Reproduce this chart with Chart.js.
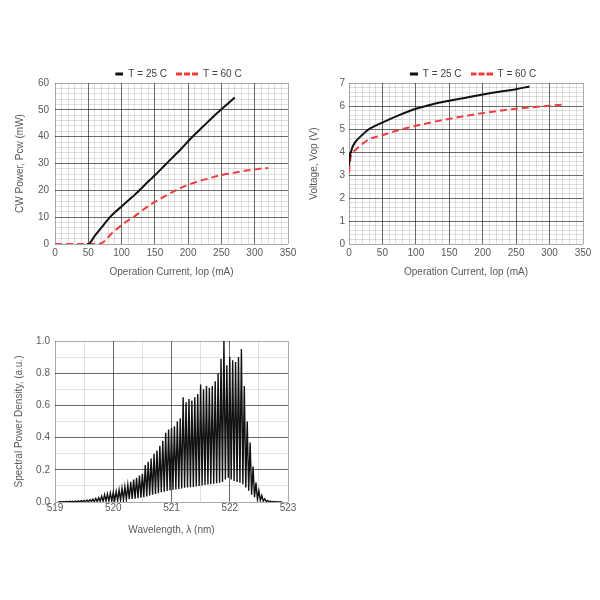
<!DOCTYPE html>
<html>
<head>
<meta charset="utf-8">
<script src="https://cdn.jsdelivr.net/npm/chart.js@4.4.1/dist/chart.umd.min.js"></script>
<style>
  body { margin: 0; background: #fff; }
  #wrap { position: relative; width: 600px; height: 600px; background: #fff; }
  canvas { position: absolute; }
</style>
</head>
<body>
<div id="wrap">
  <canvas id="powerChart" width="300" height="240" style="left:0;top:60px;width:300px;height:240px"></canvas>
  <canvas id="voltChart" width="300" height="240" style="left:300px;top:60px;width:300px;height:240px"></canvas>
  <canvas id="specChart" width="300" height="210" style="left:0;top:330px;width:300px;height:210px"></canvas>
</div>
<script>
// --- data ---
const seriesLabels = ['T = 25 C', 'T = 60 C'];

// CW power vs operation current
const powerCurrent25 = [48, 50, 60, 70, 80, 90, 100, 110, 120, 130, 140, 150, 160, 170, 180, 190, 200, 210, 220, 230, 240, 250, 260, 270];
const power25 = [0, 0, 3.1, 6.2, 9.3, 11.8, 14.0, 16.2, 18.4, 20.8, 23.3, 25.6, 28.1, 30.6, 33.1, 35.6, 38.3, 40.8, 43.2, 45.6, 48.0, 50.2, 52.4, 54.6];
const powerCurrent60 = [0, 60, 70, 75, 80, 90, 100, 110, 120, 130, 140, 150, 160, 170, 180, 190, 200, 210, 220, 230, 240, 250, 260, 270, 280, 290, 300, 310, 320];
const power60 = [0, 0, 0.3, 1.2, 2.6, 5, 7, 8.8, 10.4, 12.3, 14.1, 15.7, 17.1, 18.5, 19.8, 21, 22.1, 22.9, 23.7, 24.4, 25.1, 25.7, 26.2, 26.6, 27.1, 27.5, 27.8, 28.1, 28.3];

// voltage vs operation current
const voltCurrent25 = [0, 1, 3, 5, 10, 20, 30, 40, 50, 75, 100, 125, 150, 175, 200, 225, 250, 270];
const volt25 = [3.4, 3.8, 4.0, 4.2, 4.45, 4.75, 5.0, 5.15, 5.28, 5.6, 5.88, 6.08, 6.23, 6.36, 6.5, 6.62, 6.73, 6.85];
const voltCurrent60 = [0, 2, 5, 10, 20, 30, 50, 75, 100, 125, 150, 175, 200, 225, 250, 275, 300, 320];
const volt60 = [3.1, 3.7, 3.95, 4.1, 4.35, 4.55, 4.73, 4.96, 5.14, 5.3, 5.44, 5.57, 5.69, 5.79, 5.88, 5.95, 6.01, 6.06];

// spectrum: longitudinal mode positions, peak heights, trough heights (after each peak)
const modeWl = [
  519.05, 519.10, 519.15, 519.20, 519.25, 519.30, 519.35, 519.40, 519.45, 519.50,
  519.55, 519.60, 519.65, 519.70, 519.75, 519.80, 519.85, 519.90, 519.95, 520.00,
  520.05, 520.10, 520.15, 520.20, 520.25, 520.30, 520.35, 520.40, 520.45, 520.50,
  520.55, 520.60, 520.65, 520.70, 520.75, 520.80, 520.85, 520.90, 520.95, 521.00,
  521.05, 521.10, 521.15, 521.20, 521.25, 521.30, 521.35, 521.40, 521.45, 521.50,
  521.55, 521.60, 521.65, 521.70, 521.75, 521.80, 521.85, 521.90, 521.95, 522.00,
  522.05, 522.10, 522.15, 522.20, 522.25, 522.30, 522.35, 522.40, 522.45, 522.50,
  522.55, 522.60, 522.65, 522.70, 522.75, 522.80, 522.85, 522.90
];
const modePeak = [
  0.001, 0.002, 0.002, 0.003, 0.004, 0.005, 0.006, 0.007, 0.008, 0.010,
  0.012, 0.015, 0.018, 0.022, 0.027, 0.035, 0.045, 0.050, 0.055, 0.060,
  0.065, 0.075, 0.085, 0.095, 0.105, 0.125, 0.140, 0.150, 0.165, 0.175,
  0.230, 0.250, 0.270, 0.300, 0.320, 0.350, 0.380, 0.430, 0.450, 0.460,
  0.470, 0.500, 0.520, 0.650, 0.620, 0.640, 0.630, 0.650, 0.670, 0.730,
  0.700, 0.720, 0.710, 0.720, 0.750, 0.800, 0.890, 1.000, 0.850, 0.900,
  0.880, 0.870, 0.900, 0.950, 0.720, 0.500, 0.370, 0.220, 0.120, 0.070,
  0.040, 0.020, 0.010, 0.005, 0.003, 0.002, 0.001, 0.000
];
const modeTrough = [
  0, 0, 0, 0.001, 0.001, 0.001, 0.001, 0.001, 0.002, 0.002,
  0.002, 0.003, 0.003, 0.003, 0.004, 0.004, 0.005, 0.006, 0.007, 0.008,
  0.009, 0.011, 0.013, 0.015, 0.017, 0.019, 0.021, 0.023, 0.026, 0.030,
  0.035, 0.040, 0.045, 0.050, 0.055, 0.060, 0.064, 0.068, 0.072, 0.075,
  0.078, 0.081, 0.084, 0.088, 0.090, 0.092, 0.094, 0.097, 0.100, 0.103,
  0.106, 0.108, 0.110, 0.113, 0.116, 0.120, 0.125, 0.140, 0.150, 0.140,
  0.130, 0.125, 0.120, 0.110, 0.090, 0.070, 0.045, 0.030, 0.018, 0.010,
  0.006, 0.003, 0.002, 0.001, 0.001, 0, 0, 0
];

// --- styling ---
const tickColor = '#595959';
const majorGrid = 'rgba(0,0,0,0.58)';
const minorGrid = 'rgba(0,0,0,0.12)';
const edgeGrid = 'rgba(0,0,0,0.33)';
const red = '#f03c3c';
const baseFont = { family: "'Liberation Sans', Arial, sans-serif", size: 10 };

function pairs(xs, ys) {
  return xs.map((x, i) => ({ x: x, y: ys[i] }));
}

function isMultiple(v, step) {
  const r = v / step;
  return Math.abs(r - Math.round(r)) < 1e-6;
}

// one axis with minor step for the grid, labels only on the major step
function gridAxis(min, max, minor, major, fmt, opts) {
  return {
    type: 'linear',
    min: min,
    max: max,
    border: { display: false },
    grid: {
      drawTicks: false,
      color: c => {
        const v = c.tick.value;
        if (Math.abs(v - min) < 1e-6 || Math.abs(v - max) < 1e-6) return edgeGrid;
        return isMultiple(v, major) ? majorGrid : minorGrid;
      },
      lineWidth: 1
    },
    ticks: {
      stepSize: minor,
      autoSkip: false,
      maxRotation: 0,
      padding: opts.padding,
      color: tickColor,
      font: baseFont,
      callback: v => isMultiple(v, major) ? fmt(v) : ''
    },
    title: {
      display: true,
      text: opts.title,
      color: tickColor,
      font: baseFont,
      padding: opts.titlePadding
    },
    afterFit: opts.afterFit
  };
}

// little legend samples: short solid bar, longer dashed bar
function legendSample(color, dash, len) {
  const c = document.createElement('canvas');
  c.width = 22;
  c.height = 4;
  const g = c.getContext('2d');
  g.strokeStyle = color;
  g.lineWidth = 3;
  g.setLineDash(dash);
  g.beginPath();
  g.moveTo(22 - len, 2);
  g.lineTo(22, 2);
  g.stroke();
  return c;
}
const sample25 = legendSample('#111111', [], 8);
const sample60 = legendSample(red, [6, 2], 22);

const legendOpts = {
  position: 'top',
  fullSize: false,
  maxHeight: 23,
  labels: { usePointStyle: true, pointStyleWidth: 22, padding: 9, color: '#404040', font: baseFont }
};

function curveSets(x25, y25, x60, y60) {
  return [
    {
      label: seriesLabels[0],
      data: pairs(x25, y25),
      borderColor: '#111111',
      borderWidth: 2,
      pointRadius: 0,
      pointStyle: sample25,
      cubicInterpolationMode: 'monotone'
    },
    {
      label: seriesLabels[1],
      data: pairs(x60, y60),
      borderColor: red,
      borderWidth: 2,
      borderDash: [7, 4],
      pointRadius: 0,
      pointStyle: sample60,
      cubicInterpolationMode: 'monotone'
    }
  ];
}

// --- 1. CW power ---
new Chart(document.getElementById('powerChart'), {
  type: 'line',
  data: { datasets: curveSets(powerCurrent25, power25, powerCurrent60, power60) },
  options: {
    responsive: false,
    animation: false,
    layout: { padding: { top: 0, right: 12, bottom: 0, left: 0 } },
    plugins: { legend: legendOpts, tooltip: { enabled: false } },
    scales: {
      x: gridAxis(0, 350, 10, 50, v => v, {
        padding: 3, title: 'Operation Current, Iop (mA)',
        titlePadding: { top: 0, bottom: 22 }, afterFit: s => { s.height = 56; }
      }),
      y: gridAxis(0, 60, 2, 10, v => v, {
        padding: 6, title: 'CW Power, Pcw (mW)',
        titlePadding: { top: 14, bottom: 0 }, afterFit: s => { s.width = 55; }
      })
    }
  }
});

// --- 2. Voltage ---
new Chart(document.getElementById('voltChart'), {
  type: 'line',
  data: { datasets: curveSets(voltCurrent25, volt25, voltCurrent60, volt60) },
  options: {
    responsive: false,
    animation: false,
    layout: { padding: { top: 0, right: 17, bottom: 0, left: 0 } },
    plugins: { legend: legendOpts, tooltip: { enabled: false } },
    scales: {
      x: gridAxis(0, 350, 10, 50, v => v, {
        padding: 3, title: 'Operation Current, Iop (mA)',
        titlePadding: { top: 0, bottom: 22 }, afterFit: s => { s.height = 56; }
      }),
      y: gridAxis(0, 7, 0.2, 1, v => Math.round(v), {
        padding: 4, title: 'Voltage, Vop (V)',
        titlePadding: { top: 8, bottom: 0 }, afterFit: s => { s.width = 49; }
      })
    }
  }
});

// --- 3. Spectrum ---
const specPoints = [];
modeWl.forEach((wl, i) => {
  specPoints.push({ x: wl, y: modePeak[i] });
  if (i < modeWl.length - 1) {
    specPoints.push({ x: (wl + modeWl[i + 1]) / 2, y: modeTrough[i] });
  }
});

new Chart(document.getElementById('specChart'), {
  type: 'line',
  data: {
    datasets: [{
      label: 'Spectrum',
      data: specPoints,
      borderColor: '#111111',
      borderWidth: 1.4,
      pointRadius: 0,
      tension: 0
    }]
  },
  options: {
    responsive: false,
    animation: false,
    layout: { padding: { top: 11, right: 12, bottom: 0, left: 0 } },
    plugins: { legend: { display: false }, tooltip: { enabled: false } },
    scales: {
      x: gridAxis(519, 523, 0.5, 1, v => Math.round(v), {
        padding: 0, title: 'Wavelength, \u03bb (nm)',
        titlePadding: { top: 0, bottom: 4 }, afterFit: s => { s.height = 38; }
      }),
      y: gridAxis(0, 1, 0.1, 0.2, v => v.toFixed(1), {
        padding: 5, title: 'Spectral Power Density, (a.u.)',
        titlePadding: { top: 13, bottom: 0 }, afterFit: s => { s.width = 55; }
      })
    }
  }
});
</script>
</body>
</html>
